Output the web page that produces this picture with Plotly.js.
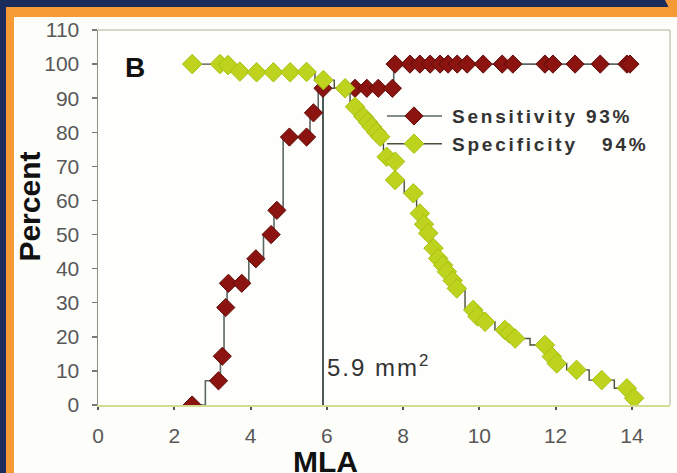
<!DOCTYPE html>
<html>
<head>
<meta charset="utf-8">
<script src="https://cdn.plot.ly/plotly-3.0.1.min.js"></script>
<style>
  html, body { margin: 0; padding: 0; width: 677px; height: 473px; overflow: hidden; background: #1b2c5c; }
  #frameOrange { position: absolute; left: 6px; top: 7px; right: 0; bottom: 0; background: #f59a35; }
  #frameCorner { position: absolute; left: 655px; top: 0; width: 22px; height: 8px; background: #f59a35;
                 clip-path: polygon(10px 0, 100% 0, 100% 100%, 14px 100%); }
  #frameInner { position: absolute; left: 14px; top: 17px; right: 0; bottom: 0; background: #fdfdfa; }
  #chart { position: absolute; left: 0; top: 0; width: 677px; height: 473px; }
  .legendtext { letter-spacing: 2.8px; }
  g.annotation[data-index="0"] text { letter-spacing: 2px; }
</style>
</head>
<body>
<div id="frameOrange"></div>
<div id="frameCorner"></div>
<div id="frameInner"></div>
<div id="chart"></div>
<script>
// Sensitivity (%) against MLA threshold (mm^2)
const sensMLA = [2.47, 3.16, 3.26, 3.35, 3.42, 3.77, 4.14, 4.54, 4.69, 5.02, 5.47, 5.65, 5.90,
                 6.74, 7.05, 7.35, 7.72, 7.79, 8.18, 8.44, 8.71, 8.97, 9.18, 9.42, 9.68,
                 10.10, 10.60, 10.88, 11.72, 11.93, 12.51, 13.17, 13.87, 13.95];
const sensPct = [0, 7.1, 14.3, 28.6, 35.7, 35.7, 42.9, 50, 57.1, 78.6, 78.6, 85.7, 92.9,
                 92.9, 92.9, 92.9, 92.9, 100, 100, 100, 100, 100, 100, 100, 100,
                 100, 100, 100, 100, 100, 100, 100, 100, 100];

// Specificity (%) against MLA threshold (mm^2)
const specMLA = [2.47, 3.20, 3.41, 3.72, 4.16, 4.60, 5.04, 5.47, 5.91, 6.48, 6.74, 6.96, 7.08,
                 7.18, 7.30, 7.40, 7.57, 7.79, 7.79, 8.27, 8.44, 8.55, 8.66, 8.80, 8.92, 9.05,
                 9.15, 9.30, 9.41, 9.84, 9.95, 10.15, 10.67, 10.78, 10.94, 11.72, 11.90, 12.03,
                 12.55, 13.21, 13.87, 14.06];
const specPct = [100, 100, 99.7, 97.8, 97.6, 97.6, 97.6, 97.7, 95.3, 92.9, 87.5, 84.6, 83.0,
                 81.6, 80.0, 78.7, 72.8, 71.4, 66.0, 62.1, 56.2, 53.0, 50.4, 46.0, 43.0, 41.0,
                 39.1, 36.5, 34.2, 27.9, 26.0, 24.4, 22.0, 21.0, 19.5, 17.6, 14.2, 12.2,
                 10.3, 7.3, 4.9, 2.0];

// Chosen cut-off and the sensitivity / specificity reached there
const cutoffMLA = 5.9;
const cutoffSens = 92.9;
const sensLabel = 93;
const specLabel = 94;

const xTicks = [0, 2, 4, 6, 8, 10, 12, 14];
const yTicks = [0, 10, 20, 30, 40, 50, 60, 70, 80, 90, 100, 110];

const NB = '\u00a0';

const traces = [
  {
    x: [cutoffMLA, cutoffMLA], y: [0, cutoffSens],
    mode: 'lines', line: { color: '#4d5858', width: 2 },
    showlegend: false, hoverinfo: 'skip'
  },
  {
    x: sensMLA, y: sensPct, name: 'Sensitivity' + NB + sensLabel + '%',
    mode: 'lines+markers',
    line: { shape: 'hvh', color: '#5b6763', width: 1.6 },
    marker: { symbol: 'diamond', size: 14, color: '#8b1410', line: { color: '#5e0c08', width: 1 } }
  },
  {
    x: specMLA, y: specPct, name: 'Specificity' + NB + NB + NB + specLabel + '%',
    mode: 'lines+markers',
    line: { shape: 'hvh', color: '#4a4f3a', width: 1.4 },
    marker: { symbol: 'diamond', size: 15, color: '#bdd31e', line: { color: '#a9c012', width: 1 } }
  }
];

const tickFont = { family: 'Liberation Sans, Arial, sans-serif', size: 21, color: '#585858' };
const titleFont = { family: 'Liberation Sans, Arial, sans-serif', size: 30, color: '#111111', weight: 'bold' };

const layout = {
  width: 677, height: 473,
  margin: { l: 98, r: 7, t: 30, b: 68 },
  paper_bgcolor: 'rgba(0,0,0,0)',
  plot_bgcolor: '#fefefc',
  showlegend: true,
  legend: {
    x: 0.5052, y: 0.821, xanchor: 'left', yanchor: 'top',
    bgcolor: 'rgba(0,0,0,0)', itemwidth: 55,
    font: { family: 'Liberation Sans, Arial, sans-serif', size: 19, color: '#333333', weight: 'bold' },
    tracegroupgap: 0
  },
  xaxis: {
    range: [0, 15], tickvals: xTicks, ticktext: xTicks.map(String),
    ticks: 'outside', ticklen: 3, tickwidth: 2, tickcolor: '#555',
    showline: true, linecolor: '#d3dc90', linewidth: 2,
    showgrid: false, zeroline: false, tickfont: tickFont, ticklabelstandoff: 8
  },
  yaxis: {
    range: [0, 110], tickvals: yTicks, ticktext: yTicks.map(String),
    ticks: 'outside', ticklen: 5, tickwidth: 1.5, tickcolor: '#777',
    showline: true, linecolor: '#8d9282', linewidth: 1.5,
    showgrid: false, zeroline: false, tickfont: tickFont, ticklabelstandoff: 8
  },
  shapes: [
    { type: 'line', xref: 'paper', yref: 'paper', x0: 0, x1: 1, y0: 1, y1: 1,
      line: { color: '#c9cdb9', width: 1.5 } },
    { type: 'line', xref: 'paper', yref: 'paper', x0: 1, x1: 1, y0: 0, y1: 1,
      line: { color: '#c9cdb9', width: 1.5 } }
  ],
  annotations: [
    {
      text: cutoffMLA.toFixed(1) + ' mm<sup>2</sup>', xref: 'x', yref: 'y',
      x: cutoffMLA, y: 11.5, xanchor: 'left', yanchor: 'middle', xshift: 9, showarrow: false,
      font: { family: 'Liberation Sans, Arial, sans-serif', size: 24, color: '#333333' }
    },
    {
      text: 'B', xref: 'paper', yref: 'paper', x: 0.0647, y: 0.901,
      xanchor: 'center', yanchor: 'middle', showarrow: false,
      font: { family: 'Liberation Sans, Arial, sans-serif', size: 28, color: '#111', weight: 'bold' }
    },
    {
      text: 'Percent', xref: 'paper', yref: 'paper', x: -0.12, y: 0.53,
      xanchor: 'center', yanchor: 'middle', textangle: -90, showarrow: false, font: titleFont
    },
    {
      text: 'MLA', xref: 'paper', yref: 'paper', x: 0.398, y: -0.151,
      xanchor: 'center', yanchor: 'middle', showarrow: false, font: titleFont
    }
  ]
};

Plotly.newPlot('chart', traces, layout, { staticPlot: true, displayModeBar: false }).then(function (gd) {
  // Longer legend sample lines, with the marker centred on each line
  gd.querySelectorAll('.legend .traces').forEach(function (tr) {
    const txt = tr.querySelector('text.legendtext');
    if (!txt) return;
    const tx = parseFloat(txt.getAttribute('x')) || 0;
    tr.querySelectorAll('.legendlines path').forEach(function (p) {
      p.setAttribute('d', 'M' + (tx - 65) + ',0h55');
    });
    tr.querySelectorAll('.legendpoints path').forEach(function (p) {
      p.setAttribute('transform', 'translate(' + (tx - 38) + ',0)');
    });
  });
});
</script>
</body>
</html>
